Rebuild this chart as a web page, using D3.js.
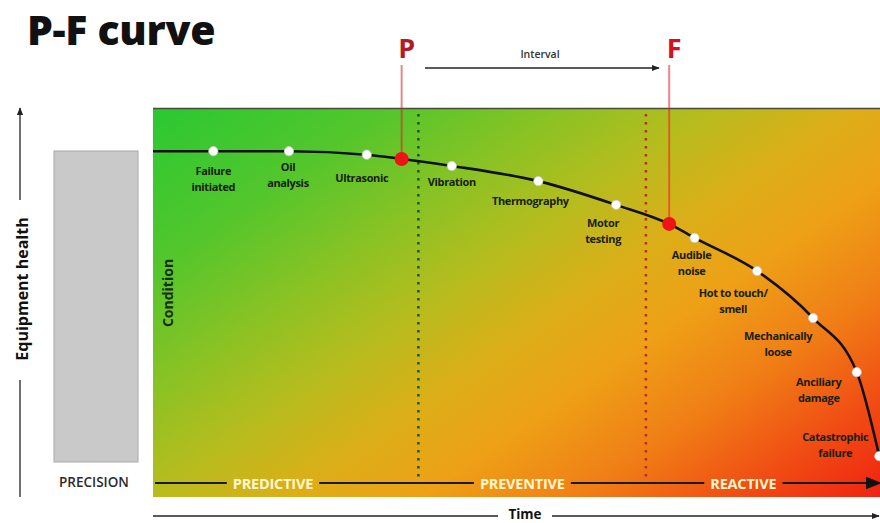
<!DOCTYPE html>
<html>
<head>
<meta charset="utf-8">
<script src="https://cdn.jsdelivr.net/npm/d3@7"></script>
<style>
  html, body { margin: 0; padding: 0; background: #fff; }
  svg { display: block; }
  text { font-family: "Open Sans", "Noto Sans", sans-serif; }
</style>
</head>
<body>
<svg id="chart" width="880" height="523"></svg>
<script>
// ---- data ----
const stageLabels = [
  ["Failure", "initiated"], ["Oil", "analysis"], ["Ultrasonic"], ["Vibration"],
  ["Thermography"], ["Motor", "testing"], ["Audible", "noise"],
  ["Hot to touch/", "smell"], ["Mechanically", "loose"], ["Anciliary", "damage"],
  ["Catastrophic", "failure"]
];
const stageTime   = [8.3, 18.7, 29.4, 41.1, 53.0, 63.7, 74.5, 83.1, 90.8, 96.8, 99.9];
const stageHealth = [88.9, 88.9, 88.0, 85.1, 81.2, 75.1, 66.6, 58.1, 46.0, 32.1, 10.5];
const startPoint  = [0, 88.9];           // time, health where the curve begins
const markerNames  = ["P", "F"];
const markerTime   = [34.2, 71.0];
const markerHealth = [86.9, 70.2];
const zoneNames    = ["PREDICTIVE", "PREVENTIVE", "REACTIVE"];
const zoneBounds   = [36.5, 67.8];       // predictive | preventive | reactive

// ---- layout ----
const plot = { left: 153, right: 880, top: 108, bottom: 497 };
const labelOffsets = [
  [0, 24], [-1, 20], [-5, 27], [0, 20], [-8, 24], [-13, 22],
  [-3, 21], [-24, 26], [-35, 22], [-38, 14], [-44, -15]
];
const zoneLabelTime = [16.5, 50.8, 81.2];
const lineGap = 16;

const svg = d3.select("#chart");
const x = d3.scaleLinear().domain([0, 100]).range([plot.left, plot.right]);
const y = d3.scaleLinear().domain([0, 100]).range([plot.bottom, plot.top]);

const defs = svg.append("defs");
const grad = defs.append("linearGradient")
  .attr("id", "bg").attr("gradientUnits", "userSpaceOnUse")
  .attr("x1", plot.left).attr("y1", plot.top)
  .attr("x2", plot.left + 425).attr("y2", plot.top + 617);
[[0, "#2ac832"], [0.18, "#54c62c"], [0.31, "#8ac224"], [0.42, "#b6bc1e"],
 [0.53, "#dcae18"], [0.63, "#eea016"], [0.75, "#f07e16"], [0.87, "#f04c14"],
 [1, "#f01a10"]].forEach(([o, c]) => grad.append("stop").attr("offset", o).attr("stop-color", c));

function arrowMarker(id, size, color) {
  defs.append("marker").attr("id", id)
    .attr("viewBox", "0 0 10 10").attr("refX", 9).attr("refY", 5)
    .attr("markerWidth", size).attr("markerHeight", size)
    .attr("markerUnits", "userSpaceOnUse").attr("orient", "auto")
    .append("path").attr("d", "M0,1 L10,5 L0,9 Z").attr("fill", color);
}
arrowMarker("arrowSmall", 8, "#222");
arrowMarker("arrowBig", 16, "#111");

// ---- title ----
svg.append("text").attr("x", 27).attr("y", 45)
  .attr("font-size", 41).attr("font-weight", 800).attr("fill", "#111")
  .attr("letter-spacing", "-0.3")
  .text("P-F curve");

// ---- background field ----
svg.append("rect")
  .attr("x", plot.left).attr("y", plot.top)
  .attr("width", plot.right - plot.left).attr("height", plot.bottom - plot.top)
  .attr("fill", "url(#bg)");
svg.append("line")
  .attr("x1", plot.left).attr("x2", plot.right)
  .attr("y1", plot.top + 0.5).attr("y2", plot.top + 0.5)
  .attr("stroke", "#4a4a38").attr("stroke-width", 1.5);

// ---- precision block ----
svg.append("rect").attr("x", 54).attr("y", 151).attr("width", 84).attr("height", 311)
  .attr("fill", "#c9c9c9").attr("stroke", "#a8a8a8").attr("stroke-width", 1);
svg.append("text").attr("x", 94).attr("y", 487).attr("text-anchor", "middle")
  .attr("font-size", 13.5).attr("font-weight", 600).attr("fill", "#2b2b2b")
  .text("PRECISION");

// ---- vertical axis: equipment health ----
const yAxisX = 20;
svg.append("line").attr("x1", yAxisX).attr("x2", yAxisX).attr("y1", 200).attr("y2", plot.top)
  .attr("stroke", "#222").attr("stroke-width", 1.3).attr("marker-end", "url(#arrowSmall)");
svg.append("line").attr("x1", yAxisX).attr("x2", yAxisX).attr("y1", 380).attr("y2", plot.bottom)
  .attr("stroke", "#222").attr("stroke-width", 1.3);
svg.append("text")
  .attr("transform", `translate(${yAxisX + 8},289) rotate(-90)`)
  .attr("text-anchor", "middle").attr("font-size", 16).attr("font-weight", 700).attr("fill", "#111")
  .text("Equipment health");

// ---- horizontal axis: time ----
const timeY = 516;
svg.append("line").attr("x1", plot.left).attr("x2", 498).attr("y1", timeY).attr("y2", timeY)
  .attr("stroke", "#222").attr("stroke-width", 1.3);
svg.append("line").attr("x1", 552).attr("x2", 879).attr("y1", timeY).attr("y2", timeY)
  .attr("stroke", "#222").attr("stroke-width", 1.3).attr("marker-end", "url(#arrowSmall)");
svg.append("text").attr("x", 525).attr("y", 519).attr("text-anchor", "middle")
  .attr("font-size", 13.5).attr("font-weight", 700).attr("fill", "#111").text("Time");

// ---- condition label ----
svg.append("text")
  .attr("transform", "translate(173,293) rotate(-90)")
  .attr("text-anchor", "middle").attr("font-size", 14).attr("font-weight", 700).attr("fill", "#16300e")
  .text("Condition");

// ---- zone boundaries (dotted) ----
const dotColors = ["#1c561e", "#b8301c"];
zoneBounds.forEach((t, i) => {
  svg.append("line")
    .attr("x1", x(t)).attr("x2", x(t)).attr("y1", plot.top + 6).attr("y2", 484)
    .attr("stroke", dotColors[i]).attr("stroke-width", 2.5)
    .attr("stroke-dasharray", "2.5,5.5");
});

// ---- zone band along the bottom ----
const bandY = 483;
const zoneText = svg.append("g");
const zoneLabelNodes = zoneNames.map((name, i) =>
  zoneText.append("text")
    .attr("x", x(zoneLabelTime[i])).attr("y", bandY + 5.5)
    .attr("text-anchor", "middle").attr("font-size", 14.5).attr("font-weight", 700)
    .attr("fill", "#fff6cc").attr("letter-spacing", "-0.2")
    .text(name));
// line segments between the zone labels
const boxes = zoneLabelNodes.map(n => n.node().getBBox());
const segs = [[plot.left + 2, boxes[0].x - 6]];
for (let i = 0; i < boxes.length - 1; i++) segs.push([boxes[i].x + boxes[i].width + 6, boxes[i + 1].x - 6]);
const last = boxes[boxes.length - 1];
segs.forEach(([a, b]) => {
  svg.insert("line", "g").attr("x1", a).attr("x2", b).attr("y1", bandY).attr("y2", bandY)
    .attr("stroke", "#1a1a1a").attr("stroke-width", 2.2);
});
svg.insert("line", "g").attr("x1", last.x + last.width + 6).attr("x2", 880).attr("y1", bandY).attr("y2", bandY)
  .attr("stroke", "#1a1a1a").attr("stroke-width", 2.2).attr("marker-end", "url(#arrowBig)");

// ---- P and F markers ----
const markerTextColor = ["#b31b25", "#d6111d"];
const markerLineColor = ["rgba(200,40,40,0.55)", "rgba(235,30,40,0.55)"];
markerNames.forEach((m, i) => {
  const mx = x(markerTime[i]);
  svg.append("line").attr("x1", mx).attr("x2", mx).attr("y1", 65).attr("y2", y(markerHealth[i]))
    .attr("stroke", markerLineColor[i]).attr("stroke-width", 2);
  svg.append("text").attr("x", mx + 5).attr("y", 58).attr("text-anchor", "middle")
    .attr("font-size", 27).attr("font-weight", 700).attr("fill", markerTextColor[i]).text(m);
});

// ---- interval arrow ----
svg.append("line").attr("x1", 425).attr("x2", 659).attr("y1", 68).attr("y2", 68)
  .attr("stroke", "#222").attr("stroke-width", 1.3).attr("marker-end", "url(#arrowSmall)");
svg.append("text").attr("x", 540).attr("y", 58).attr("text-anchor", "middle")
  .attr("font-size", 10.5).attr("font-weight", 600).attr("fill", "#333").text("Interval");

// ---- the P-F curve ----
const curvePts = [startPoint]
  .concat(stageTime.map((t, i) => [t, stageHealth[i]]))
  .concat(markerTime.map((t, i) => [t, markerHealth[i]]))
  .sort((a, b) => a[0] - b[0]);
const line = d3.line().x(d => x(d[0])).y(d => y(d[1])).curve(d3.curveMonotoneX);
svg.append("path").datum(curvePts).attr("d", line)
  .attr("fill", "none").attr("stroke", "#111").attr("stroke-width", 2.6);

// stage points and labels
stageTime.forEach((t, i) => {
  const px = x(t), py = y(stageHealth[i]);
  svg.append("circle").attr("cx", px).attr("cy", py).attr("r", 4.6)
    .attr("fill", "#fff").attr("stroke", "#cfcfcf").attr("stroke-width", 0.8);
  const [dx, dy] = labelOffsets[i];
  const txt = svg.append("text").attr("text-anchor", "middle")
    .attr("font-size", 11).attr("font-weight", 700).attr("fill", "#18200e")
    .attr("letter-spacing", "-0.35");
  stageLabels[i].forEach((s, k) => {
    txt.append("tspan").attr("x", px + dx).attr("y", py + dy + k * lineGap).text(s);
  });
});

// P and F dots
markerTime.forEach((t, i) => {
  svg.append("circle").attr("cx", x(t)).attr("cy", y(markerHealth[i])).attr("r", 7)
    .attr("fill", "#ee1414");
});
</script>
</body>
</html>
